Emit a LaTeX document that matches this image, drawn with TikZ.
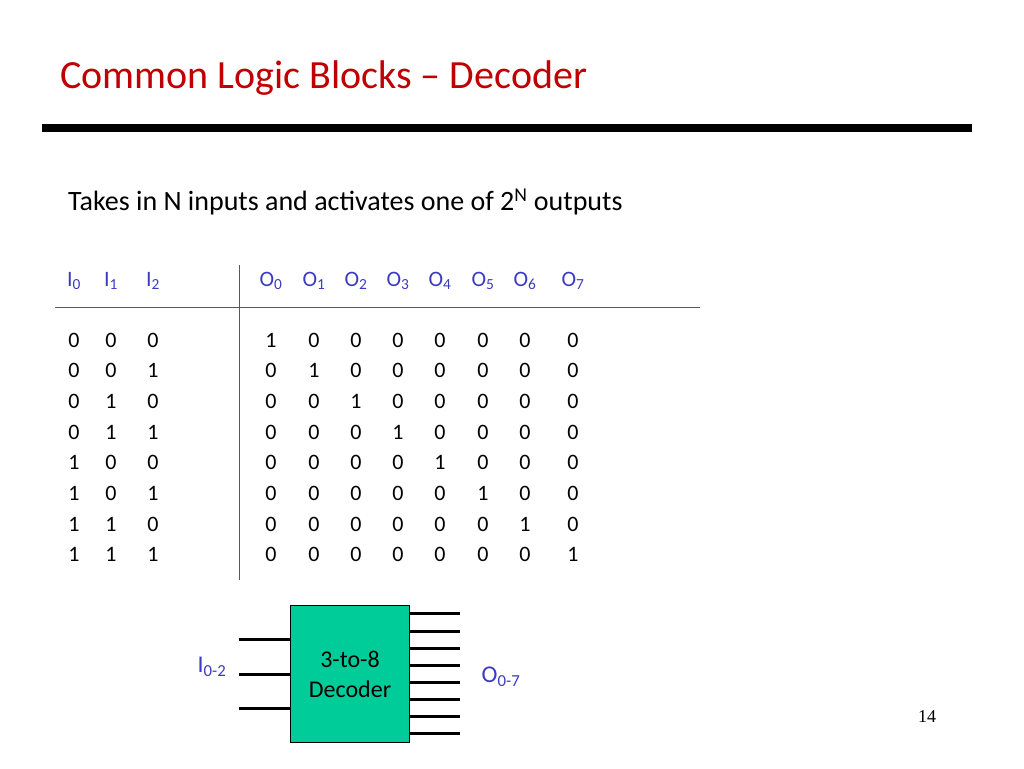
\documentclass[tikz,border=0pt]{standalone}
\usepackage{fontspec}
\setmainfont{Carlito}
\definecolor{tred}{HTML}{C00000}
\definecolor{tblue}{HTML}{3B3BC0}
\definecolor{dgreen}{HTML}{00CC99}
\begin{document}
\begin{tikzpicture}[x=1pt,y=-1pt,
  cell/.style={font=\fontsize{22}{24}\selectfont,inner sep=0pt},
  hdr/.style={font=\fontsize{22}{24}\selectfont,text=tblue,inner sep=0pt},
  wire/.style={line width=3pt}]
\useasboundingbox (0,0) rectangle (1024,768);
\node[anchor=west,text=tred,font=\fontsize{40}{44}\selectfont,inner sep=0pt] (title) at (60,78) {Common Logic Blocks – Decoder};
\draw[line width=8pt] (42,128) -- (972,128);
\node[anchor=west,font=\fontsize{28}{32}\selectfont,inner sep=0pt] (sub) at (68,202) {Takes in N inputs and activates one of 2\textsuperscript{N} outputs};
\foreach \x/\i in {74/0,111/1,153/2}{\node[hdr] (hi\i) at (\x,281) {I\textsubscript{\i}};}
\foreach \x/\i in {271/0,314/1,356/2,398/3,440/4,483/5,525/6,573/7}{\node[hdr] (ho\i) at (\x,281) {O\textsubscript{\i}};}
\draw[line width=1pt,gray!70!black] (55,307) -- (700,307);
\draw[line width=1pt,gray!70!black] (239,265) -- (239,580);
\foreach \r in {0,...,7}{
  \pgfmathsetmacro{\yy}{340+30.7*\r}
  \pgfmathtruncatemacro{\ba}{div(\r,4)}
  \pgfmathtruncatemacro{\bb}{mod(div(\r,2),2)}
  \pgfmathtruncatemacro{\bc}{mod(\r,2)}
  \node[cell] (a\r) at (74,\yy) {\ba};
  \node[cell] (b\r) at (111,\yy) {\bb};
  \node[cell] (c\r) at (153,\yy) {\bc};
  \foreach \x [count=\k from 0] in {271,314,356,398,440,483,525,573}{
    \pgfmathtruncatemacro{\v}{\k==\r ? 1 : 0}
    \node[cell] (o\r-\k) at (\x,\yy) {\v};
  }
}
\node[draw=black,line width=1pt,fill=dgreen,minimum width=119pt,minimum height=137pt,anchor=north west,inner sep=0pt,
  font=\fontsize{24}{30}\selectfont,align=center] (dec) at (290,605) {3-to-8\\Decoder};
\foreach \y [count=\k] in {639,674,708}{
  \coordinate (in\k) at (239,\y);
  \draw[wire] (in\k) -- (dec.west |- in\k);
}
\foreach \y [count=\k] in {613,631,648,665,682,699,716,733}{
  \coordinate (out\k) at (460,\y);
  \draw[wire] (dec.east |- out\k) -- (out\k);
}
\node[text=tblue,font=\fontsize{24}{28}\selectfont,inner sep=0pt] (il) at (212,667) {I\textsubscript{0-2}};
\node[text=tblue,font=\fontsize{24}{28}\selectfont,inner sep=0pt] (ol) at (501,677) {O\textsubscript{0-7}};
\node[font=\fontsize{18}{20}\selectfont\rmfamily,inner sep=0pt] (pg) at (927,717) {\fontspec{Liberation Serif}14};
\end{tikzpicture}
\end{document}
